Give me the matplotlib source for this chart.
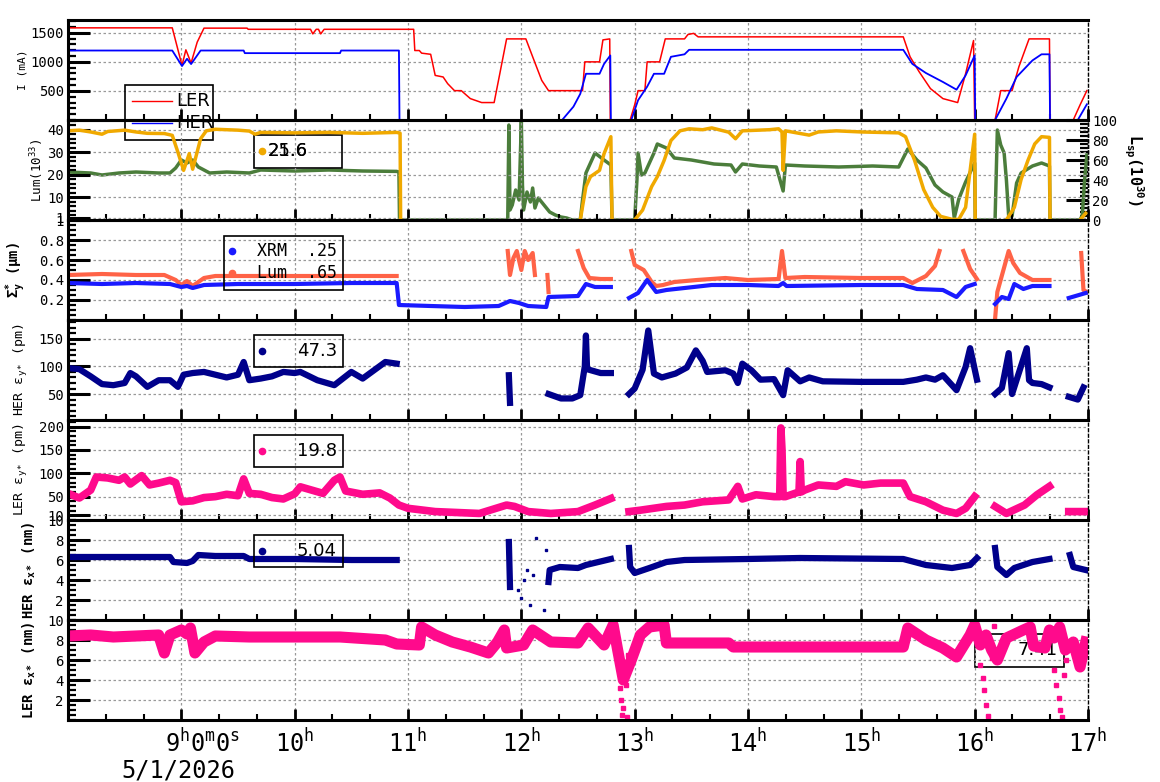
import numpy as np
import matplotlib
matplotlib.use("Agg")
import matplotlib.pyplot as plt
from matplotlib.ticker import MultipleLocator
from matplotlib.patches import Rectangle
from matplotlib.lines import Line2D
from matplotlib.transforms import ScaledTranslation

plt.rcParams["font.family"] = "DejaVu Sans Mono"
plt.rcParams["mathtext.fontset"] = "custom"
plt.rcParams["mathtext.rm"] = "DejaVu Sans Mono"
plt.rcParams["mathtext.it"] = "DejaVu Sans Mono:italic"
plt.rcParams["mathtext.bf"] = "DejaVu Sans Mono:bold"

nan = np.nan

# ---- data: (hour, value), nan = gap ----
ler_cur = [(8.00, 1585), (8.92, 1585), (9.006, 938), (9.04, 1207), (9.086, 980), (9.14, 1339),
           (9.20, 1580), (9.58, 1580), (9.59, 1560), (10.14, 1560), (10.16, 1481), (10.19, 1560),
           (10.21, 1560), (10.23, 1481), (10.26, 1560), (11.05, 1560), (11.06, 1195), (11.10, 1195),
           (11.12, 1150), (11.20, 1130), (11.24, 767), (11.31, 740), (11.35, 625), (11.41, 505),
           (11.47, 505), (11.55, 368), (11.65, 300), (11.76, 300), (11.81, 796), (11.87, 1395),
           (12.04, 1395), (12.10, 1087), (12.18, 681), (12.24, 505), (12.54, 505), (12.56, 1000),
           (12.69, 1000), (12.72, 1378), (12.78, 1395), (12.785, 0), (12.96, 0), (13.00, 260),
           (13.03, 505), (13.09, 505), (13.11, 1000), (13.22, 1000), (13.27, 1395), (13.44, 1395),
           (13.47, 1470), (13.52, 1490), (13.56, 1430), (15.37, 1430), (15.43, 1087), (15.51, 830),
           (15.61, 540), (15.72, 368), (15.85, 300), (15.92, 796), (15.99, 1367), (16.0, 0),
           (16.18, 0), (16.23, 505), (16.33, 505), (16.39, 915), (16.48, 1395), (16.66, 1395),
           (16.665, 0), (16.87, 0), (16.93, 260), (16.99, 505)]
her_cur = [(8.00, 1195), (8.92, 1195), (9.006, 928), (9.05, 1053), (9.086, 962), (9.17, 1195),
           (9.55, 1195), (9.56, 1150), (10.40, 1150), (10.41, 1195), (10.92, 1195), (10.925, 0),
           (12.36, 0), (12.46, 230), (12.52, 450), (12.57, 795), (12.69, 795), (12.73, 965),
           (12.785, 1110), (12.79, 0), (12.97, 0), (13.03, 340), (13.11, 573), (13.17, 795),
           (13.26, 795), (13.32, 1087), (13.44, 1130), (13.48, 1207), (15.37, 1207), (15.45, 965),
           (15.57, 808), (15.72, 654), (15.84, 522), (15.92, 767), (16.0, 1110), (16.005, 0),
           (16.18, 0), (16.28, 368), (16.37, 740), (16.51, 1025), (16.59, 1130), (16.66, 1130),
           (16.665, 0), (16.91, 0), (16.99, 270)]

lum = [(8.00, 39.5), (8.10, 39.8), (8.20, 39.0), (8.30, 38.0), (8.35, 39.2), (8.50, 39.8),
       (8.60, 39.0), (8.70, 38.4), (8.85, 38.3), (8.92, 37.5), (8.97, 30), (9.02, 22),
       (9.07, 29.4), (9.10, 22.5), (9.17, 36), (9.22, 39.5), (9.30, 40.2), (9.50, 39.8),
       (9.60, 39.4), (9.65, 38.0), (9.70, 38.8), (10.0, 38.6), (10.30, 38.8), (10.60, 38.4),
       (10.90, 38.8), (10.93, 38.5), (10.935, 0), (10.94, nan), (12.52, 0), (12.57, 14.8),
       (12.61, 19.2), (12.69, 22), (12.73, 29.4), (12.79, 36.9), (12.80, 0), (12.81, nan),
       (13.00, 0), (13.07, 4.4),
       (13.15, 14.8), (13.20, 19.2), (13.26, 26.4), (13.32, 35.2), (13.40, 39.5), (13.48, 40.4),
       (13.60, 40.0), (13.68, 40.8), (13.83, 38.9), (13.89, 36), (13.95, 39.5), (14.19, 40),
       (14.27, 40.4), (14.30, 39), (14.31, 22), (14.33, 39.5), (14.54, 37.6), (14.62, 39),
       (14.78, 39.5), (15.00, 39.0), (15.33, 38.6), (15.39, 36.9), (15.47, 26.4), (15.55, 13.5),
       (15.63, 5.6), (15.70, 1.6), (15.80, 0.3), (15.86, 0.3), (15.92, 5.6), (15.96, 22),
       (16.00, 38), (16.005, 0), (16.01, nan), (16.28, 0), (16.35, 5.6), (16.41, 18),
       (16.47, 26.4), (16.53, 33.7), (16.59, 36.9), (16.66, 36.6), (16.665, 0), (16.67, nan),
       (16.93, 0), (16.98, 3)]
lsp = [(8.00, 48), (8.20, 47), (8.30, 45), (8.45, 47), (8.60, 48), (8.80, 47), (8.90, 47),
       (8.95, 52), (9.00, 60), (9.05, 57), (9.10, 60), (9.15, 53), (9.25, 47), (9.40, 48),
       (9.60, 47), (9.70, 50), (10.0, 49), (10.3, 50), (10.6, 49), (10.9, 48.6), (10.92, 48),
       (10.925, 0), (11.88, 0), (11.89, 95), (11.90, 10), (11.92, 15), (11.95, 30), (11.98, 20),
       (12.0, 98), (12.01, 35), (12.02, 10), (12.05, 28), (12.08, 18), (12.10, 32), (12.12, 12),
       (12.15, 22), (12.20, 15), (12.25, 8), (12.30, 5), (12.35, 3), (12.40, 2), (12.45, 0),
       (12.52, 0), (12.54, 20), (12.57, 47), (12.65, 67), (12.73, 60), (12.79, 55), (12.80, 0),
       (13.00, 0), (13.02, 40), (13.03, 67), (13.06, 45), (13.09, 47), (13.17, 67), (13.20, 76),
       (13.28, 72), (13.35, 62), (13.50, 60), (13.70, 56), (13.85, 55), (13.89, 48), (13.95, 56),
       (14.10, 54), (14.25, 53), (14.31, 29), (14.33, 55), (14.50, 54), (14.80, 53), (15.10, 54),
       (15.33, 53), (15.41, 71), (15.49, 60), (15.57, 52), (15.65, 35), (15.72, 28), (15.80, 23),
       (15.82, 2), (15.86, 21), (15.92, 38), (16.00, 57), (16.005, 0), (16.18, 0), (16.20, 90),
       (16.23, 75), (16.26, 67), (16.28, 40), (16.30, 4), (16.33, 4), (16.37, 37), (16.41, 47),
       (16.51, 54), (16.59, 57), (16.66, 54), (16.665, 0), (16.93, 0), (16.95, 5), (16.97, 40),
       (16.99, 65)]

sig_xrm = [(8.0, 0.37), (8.3, 0.36), (8.6, 0.37), (8.9, 0.36), (9.0, 0.33), (9.05, 0.34),
           (9.1, 0.32), (9.2, 0.35), (9.5, 0.36), (10.0, 0.36), (10.5, 0.37), (10.9, 0.37),
           (10.92, 0.15), (11.2, 0.14), (11.5, 0.13), (11.8, 0.14), (11.9, 0.19), (11.98, 0.17),
           (12.06, 0.14), (12.22, 0.13), (12.24, 0.23), (12.5, 0.24), (12.57, 0.36), (12.65, 0.33),
           (12.79, 0.33), (12.8, nan), (12.95, 0.22), (13.03, 0.27), (13.11, 0.40), (13.19, 0.28),
           (13.28, 0.30), (13.52, 0.33), (13.68, 0.35), (14.0, 0.35), (14.27, 0.34), (14.31, 0.37),
           (14.34, 0.34), (15.0, 0.35), (15.37, 0.35), (15.49, 0.31), (15.72, 0.30), (15.84, 0.23),
           (15.92, 0.33), (16.0, 0.36), (16.01, nan), (16.18, 0.16), (16.24, 0.23), (16.30, 0.21),
           (16.35, 0.36), (16.43, 0.31), (16.51, 0.34), (16.66, 0.34), (16.67, nan), (16.83, 0.22),
           (16.98, 0.27)]
sig_lum = [(8.0, 0.45), (8.3, 0.46), (8.6, 0.45), (8.85, 0.45), (8.95, 0.40), (9.0, 0.35),
           (9.05, 0.39), (9.1, 0.34), (9.2, 0.42), (9.3, 0.44), (9.6, 0.44), (10.0, 0.44),
           (10.5, 0.44), (10.9, 0.44), (10.92, nan), (11.88, 0.69), (11.9, 0.45), (11.93, 0.62),
           (11.96, 0.69), (12.0, 0.50), (12.03, 0.69), (12.06, 0.60), (12.1, 0.67), (12.12, 0.45),
           (12.14, nan), (12.23, 0.45), (12.24, 0.28), (12.25, nan), (12.50, 0.69), (12.55, 0.52),
           (12.60, 0.42), (12.70, 0.41), (12.79, 0.41), (12.8, nan), (12.97, 0.69), (13.0, 0.55),
           (13.08, 0.50), (13.15, 0.38), (13.19, 0.34), (13.25, 0.35), (13.35, 0.38), (13.55, 0.40),
           (13.8, 0.42), (14.0, 0.40), (14.27, 0.41), (14.30, 0.69), (14.33, 0.42), (14.5, 0.43),
           (15.0, 0.42), (15.37, 0.42), (15.45, 0.37), (15.57, 0.44), (15.65, 0.54), (15.69, 0.69),
           (15.7, nan), (15.9, 0.69), (15.96, 0.51), (16.02, 0.41), (16.03, nan), (16.18, 0.01),
           (16.2, 0.28), (16.3, 0.69), (16.34, 0.57), (16.40, 0.47), (16.51, 0.40), (16.66, 0.40),
           (16.67, nan), (16.94, 0.67), (16.96, 0.30), (16.99, 0.28)]

her_ey = [(8.0, 97), (8.1, 95), (8.2, 82), (8.3, 68), (8.4, 66), (8.5, 70), (8.55, 88), (8.6, 82),
          (8.7, 63), (8.8, 75), (8.9, 75), (8.97, 63), (9.02, 85), (9.1, 88), (9.2, 90), (9.3, 85),
          (9.4, 80), (9.5, 85), (9.55, 108), (9.6, 75), (9.7, 78), (9.8, 82), (9.9, 90), (10.0, 88),
          (10.05, 90), (10.2, 75), (10.35, 66), (10.5, 90), (10.6, 78), (10.7, 93), (10.8, 108),
          (10.9, 105), (10.92, nan), (11.89, 84), (11.9, 34), (11.91, nan), (12.24, 50),
          (12.35, 42), (12.45, 42), (12.52, 48), (12.56, 100), (12.57, 156), (12.58, 95),
          (12.7, 88), (12.79, 88), (12.8, nan), (12.95, 50), (13.0, 60), (13.07, 94), (13.12, 165),
          (13.17, 87), (13.24, 80), (13.36, 87), (13.46, 98), (13.54, 129), (13.6, 110),
          (13.64, 90), (13.8, 93), (13.87, 87), (13.91, 70), (13.95, 105), (14.03, 93),
          (14.11, 76), (14.23, 77), (14.31, 48), (14.35, 93), (14.46, 73), (14.54, 80),
          (14.66, 73), (15.0, 72), (15.37, 72), (15.49, 76), (15.57, 80), (15.65, 76), (15.72, 84),
          (15.84, 57), (15.92, 99), (15.96, 133), (16.02, 76), (16.03, nan), (16.18, 50),
          (16.24, 61), (16.3, 124), (16.33, 50), (16.46, 133), (16.48, 75), (16.51, 70),
          (16.59, 68), (16.66, 62), (16.67, nan), (16.83, 45), (16.91, 40), (16.96, 62)]
ler_ey = [(8.0, 57), (8.1, 47), (8.2, 64), (8.25, 92), (8.35, 90), (8.45, 85), (8.5, 92),
          (8.55, 77), (8.65, 95), (8.72, 75), (8.8, 79), (8.9, 85), (8.95, 80), (9.0, 39),
          (9.1, 41), (9.2, 48), (9.3, 50), (9.4, 55), (9.5, 52), (9.55, 88), (9.6, 57), (9.7, 55),
          (9.8, 48), (9.9, 45), (10.0, 56), (10.05, 71), (10.15, 64), (10.25, 57), (10.35, 85),
          (10.4, 92), (10.45, 62), (10.6, 55), (10.75, 58), (10.84, 47), (10.92, 32), (11.0, 25),
          (11.24, 18), (11.63, 14), (11.87, 32), (11.94, 29), (12.06, 18), (12.26, 14), (12.5, 18),
          (12.65, 32), (12.79, 46), (12.8, nan), (12.95, 18), (13.05, 21), (13.28, 29), (13.44, 32),
          (13.6, 39), (13.83, 43), (13.91, 72), (13.95, 45), (14.07, 54), (14.23, 50), (14.28, 50),
          (14.29, 197), (14.30, 150), (14.31, 50), (14.33, 50), (14.45, 60), (14.46, 125),
          (14.47, 60), (14.5, 64), (14.62, 75), (14.78, 72), (14.86, 82), (15.02, 75), (15.17, 79),
          (15.37, 79), (15.43, 50), (15.57, 39), (15.72, 21), (15.84, 14), (15.92, 25), (16.0, 50),
          (16.01, nan), (16.18, 29), (16.28, 14), (16.44, 32), (16.55, 54), (16.66, 72),
          (16.67, nan), (16.83, 18), (16.98, 18)]

her_ex = [(8.0, 6.3), (8.5, 6.3), (8.9, 6.3), (8.93, 5.8), (9.05, 5.7), (9.1, 5.9), (9.15, 6.5),
          (9.3, 6.4), (9.55, 6.4), (9.6, 6.1), (10.0, 6.1), (10.5, 6.0), (10.9, 6.0), (10.92, nan),
          (11.89, 7.8), (11.9, 3.3), (11.91, nan), (12.24, 3.8), (12.25, 5.0), (12.34, 5.3),
          (12.5, 5.2), (12.57, 5.5), (12.79, 6.1), (12.8, nan), (12.95, 7.2), (12.96, 5.3),
          (13.0, 4.7), (13.13, 5.2), (13.28, 5.8), (13.44, 6.0), (13.99, 6.1), (14.46, 6.2),
          (15.37, 6.1), (15.57, 5.5), (15.8, 5.2), (15.96, 5.5), (16.02, 6.2), (16.03, nan),
          (16.18, 7.2), (16.2, 5.3), (16.28, 4.5), (16.35, 5.2), (16.51, 5.8), (16.66, 6.1),
          (16.67, nan), (16.84, 6.5), (16.87, 5.3), (16.98, 5.0)]
her_ex_out = [(11.97, 3.0), (12.0, 2.2), (12.02, 4.0), (12.05, 5.0), (12.08, 1.5), (12.1, 4.5),
              (12.13, 8.2), (12.2, 1.0), (12.22, 7.0)]
ler_ex = [(8.0, 8.4), (8.2, 8.5), (8.4, 8.3), (8.6, 8.4), (8.8, 8.5), (8.85, 6.7), (8.9, 8.5),
          (9.0, 9.0), (9.05, 8.6), (9.08, 9.2), (9.12, 6.7), (9.2, 7.8), (9.3, 8.4), (9.6, 8.3),
          (10.0, 8.3), (10.4, 8.3), (10.8, 8.0), (10.9, 7.6), (11.1, 7.5), (11.12, 9.3),
          (11.24, 8.5), (11.39, 7.8), (11.55, 7.3), (11.71, 6.7), (11.79, 7.8), (11.85, 9.0),
          (11.87, 7.2), (12.02, 7.5), (12.10, 9.0), (12.26, 7.8), (12.50, 7.7), (12.59, 9.2),
          (12.73, 7.5), (12.81, 9.5), (12.85, 7.0), (12.9, 4.0), (12.97, 6.0), (13.05, 8.5),
          (13.13, 9.3), (13.26, 9.5), (13.28, 7.7), (13.83, 7.7), (13.87, 7.3), (15.37, 7.3),
          (15.41, 9.2), (15.57, 8.0), (15.72, 7.2), (15.84, 6.3), (15.96, 8.5), (16.0, 9.5),
          (16.05, 7.5), (16.1, 8.5), (16.15, 7.0), (16.2, 6.0), (16.28, 8.2), (16.43, 9.0),
          (16.49, 9.3), (16.52, 7.4), (16.62, 7.2), (16.66, 9.0), (16.70, 8.2), (16.75, 9.3),
          (16.8, 7.0), (16.87, 7.8), (16.93, 5.3), (16.98, 7.8)]
ler_ex_out = [(12.86, 5.5), (12.87, 3.2), (12.88, 2.0), (12.89, 0.5), (12.9, 1.2), (12.91, 4.8),
              (12.92, 3.5), (12.93, 0.3), (12.94, 6.5), (16.02, 9.0), (16.05, 5.5), (16.07, 4.2),
              (16.08, 3.0), (16.1, 1.5), (16.12, 0.4), (16.15, 6.2), (16.17, 9.4), (16.70, 5.0),
              (16.72, 3.5), (16.74, 2.2), (16.75, 1.0), (16.77, 0.3), (16.79, 4.5), (16.81, 6.0)]

hours = [8, 9, 10, 11, 12, 13, 14, 15, 16, 17]
hour_labels = ["", "9$^{\\mathrm{h}}$0$^{\\mathrm{m}}$0$^{\\mathrm{s}}$"] + \
              ["%d$^{\\mathrm{h}}$" % h for h in hours[2:]]
date_label = "5/1/2026"

RED, BLUE = "#ff0000", "#0000ff"
YEL, GRN = "#f0a900", "#4b7d3b"
XRM, SAL = "#1a1aff", "#ff6347"
NAVY, PINK = "#00008b", "#ff0a8c"

W, H = 1160, 782
fig = plt.figure(figsize=(W / 100, H / 100), dpi=100)


def xy(pairs):
    a = np.array(pairs, dtype=float)
    return a[:, 0], a[:, 1]


def panel(i, ylim, yticks, yminor, ylabel, labx, lsize=9.5, bold=False):
    top = 20 + 100 * i
    ax = fig.add_axes([68 / W, 1 - (top + 100) / H, 1020 / W, 100 / H])
    ax.set_xlim(8, 17)
    ax.set_ylim(*ylim)
    ax.set_xticks(hours)
    ax.xaxis.set_minor_locator(MultipleLocator(1 / 3))
    ax.set_yticks(yticks)
    ax.set_yticklabels([("%g" % v) for v in yticks])
    ax.yaxis.set_minor_locator(MultipleLocator(yminor))
    ax.tick_params(axis="y", which="major", direction="in", length=16, width=2.2,
                   labelsize=10, pad=3)
    ax.tick_params(axis="y", which="minor", direction="in", length=6, width=1.6)
    ax.tick_params(axis="x", which="major", direction="in", length=8, width=2,
                   labelbottom=False)
    ax.tick_params(axis="x", which="minor", direction="in", length=4, width=1.5)
    ax.grid(True, which="major", color="#999999", linestyle=(0, (2, 2)), linewidth=0.9)
    for s in ("left", "top", "bottom"):
        ax.spines[s].set_linewidth(2.2)
    ax.spines["right"].set_linestyle((0, (2, 2)))
    ax.spines["right"].set_linewidth(1)
    ax.set_ylabel(ylabel, fontsize=lsize, fontweight="bold" if bold else "normal")
    ax.yaxis.set_label_coords(labx, 0.5)
    return ax


# panel 1: currents
ax1 = panel(0, (0, 1720), [500, 1000, 1500], 100, "I (mA)", -0.040, lsize=8)
ax1.plot(*xy(ler_cur), color=RED, lw=1.1)
ax1.plot(*xy(her_cur), color=BLUE, lw=1.3)

# panel 2: luminosity
ax2 = panel(1, (0, 44.3), [1, 10, 20, 30, 40], 2, "Lum(10$^{33}$)", -0.022, lsize=9)
ax2r = ax2.twinx()
ax2r.set_ylim(0, 100)
ax2r.set_yticks([0, 20, 40, 60, 80, 100])
ax2r.yaxis.set_minor_locator(MultipleLocator(4))
ax2r.tick_params(axis="y", which="major", direction="in", length=16, width=2.2,
                 labelsize=10, pad=3)
ax2r.tick_params(axis="y", which="minor", direction="in", length=6, width=1.6)
for s in ("left", "top", "bottom"):
    ax2r.spines[s].set_visible(False)
ax2r.spines["right"].set_linestyle((0, (2, 2)))
ax2r.spines["right"].set_linewidth(1)
ax2r.plot(*xy(lsp), color=GRN, lw=2.5)
ax2r.set_ylabel("L$_{\\mathbf{sp}}$(10$^{\\mathbf{30}}$)", fontsize=11, fontweight="bold",
                rotation=270)
ax2r.yaxis.set_label_coords(1.056, 0.5)
ax2.set_zorder(ax2r.get_zorder() + 1)
ax2.patch.set_visible(False)
ax2.plot(*xy(lum), color=YEL, lw=2.5)

# panel 3: beam size
ax3 = panel(2, (0, 1), [0.2, 0.4, 0.6, 0.8, 1], 0.05,
            "Σ$_{\\mathbf{y}}^{\\mathbf{*}}$ (µm)", -0.039, lsize=10, bold=True)
ax3.plot(*xy(sig_lum), color=SAL, lw=3)
ax3.plot(*xy(sig_xrm), color=XRM, lw=3)

# panel 4, 5: vertical emittance
ax4 = panel(3, (3, 184), [50, 100, 150], 10, "HER ε$_{\\mathrm{y*}}$ (pm)", -0.037)
ax4.plot(*xy(her_ey), color=NAVY, lw=4.5)
ax5 = panel(4, (0, 214), [10, 50, 100, 150, 200], 10, "LER ε$_{\\mathrm{y*}}$ (pm)", -0.037)
ax5.plot(*xy(ler_ey), color=PINK, lw=5.5)

# panel 6, 7: horizontal emittance
ax6 = panel(5, (0, 10), [2, 4, 6, 8, 10], 0.5, "HER ε$_{\\mathbf{x*}}$ (nm)", -0.029,
            lsize=10, bold=True)
ax6.plot(*xy(her_ex), color=NAVY, lw=4.5)
ax6.plot(*xy(her_ex_out), "s", color=NAVY, ms=2)
ax7 = panel(6, (0, 10), [2, 4, 6, 8, 10], 0.5, "LER ε$_{\\mathbf{x*}}$ (nm)", -0.029,
            lsize=10, bold=True)
ax7.plot(*xy(ler_ex), color=PINK, lw=8)
ax7.plot(*xy(ler_ex_out), "s", color=PINK, ms=2.2)

# time axis labels on the bottom panel
ax7.tick_params(axis="x", which="major", labelbottom=True, labelsize=17, pad=6)
ax7.set_xticklabels(hour_labels)
lbl = ax7.get_xticklabels()[1]
lbl.set_transform(lbl.get_transform() + ScaledTranslation(0.21, 0, fig.dpi_scale_trans))
fig.text(178 / W, 1 - 770 / H, date_label, ha="center", va="center", fontsize=17)


# ---- legend boxes ----
def box(x0, y0, x1, y1, ax=None):
    r = Rectangle((x0 / W, 1 - y1 / H), (x1 - x0) / W, (y1 - y0) / H,
                  transform=fig.transFigure, fill=False, ec="black", lw=1.2)
    if ax is None:
        fig.add_artist(r)
    else:
        r.set_zorder(1)
        r.set_clip_on(False)
        ax.add_patch(r)


def ftext(x, y, s, size=13, ha="left", family="DejaVu Sans", ax=None):
    if ax is None:
        fig.text(x / W, 1 - y / H, s, ha=ha, va="center", fontsize=size, family=family)
    else:
        ax.text(x / W, 1 - y / H, s, ha=ha, va="center", fontsize=size, family=family,
                transform=fig.transFigure, zorder=1)


def dot(x, y, color):
    fig.add_artist(Line2D([x / W], [1 - y / H], marker="o", ms=4.5, color=color, lw=0))


box(125, 85, 213, 140)
fig.add_artist(Line2D([132 / W, 172 / W], [1 - 101 / H] * 2, color=RED, lw=1))
fig.add_artist(Line2D([132 / W, 172 / W], [1 - 123 / H] * 2, color=BLUE, lw=1))
ftext(176, 101, "LER")
ftext(176, 123, "HER")

box(254, 135, 342, 168)
dot(262, 151, YEL)
ftext(268, 151, "25.6")
ftext(268, 151, "21.6")

box(224, 236, 343, 290)
dot(232, 251, XRM)
dot(232, 273, SAL)
ftext(257, 251, "XRM  .25", size=12, family="DejaVu Sans Mono")
ftext(257, 273, "Lum  .65", size=12, family="DejaVu Sans Mono")

box(254, 335, 343, 367)
dot(262, 351, NAVY)
ftext(337, 351, "47.3", ha="right")

box(254, 435, 343, 467)
dot(262, 451, PINK)
ftext(337, 451, "19.8", ha="right")

box(254, 535, 343, 567)
dot(262, 551, NAVY)
ftext(337, 551, "5.04", ha="right")

box(975, 634, 1064, 667, ax=ax7)
ftext(1058, 650, "7.41", ha="right", ax=ax7)

fig.savefig("out.png", dpi=100)
